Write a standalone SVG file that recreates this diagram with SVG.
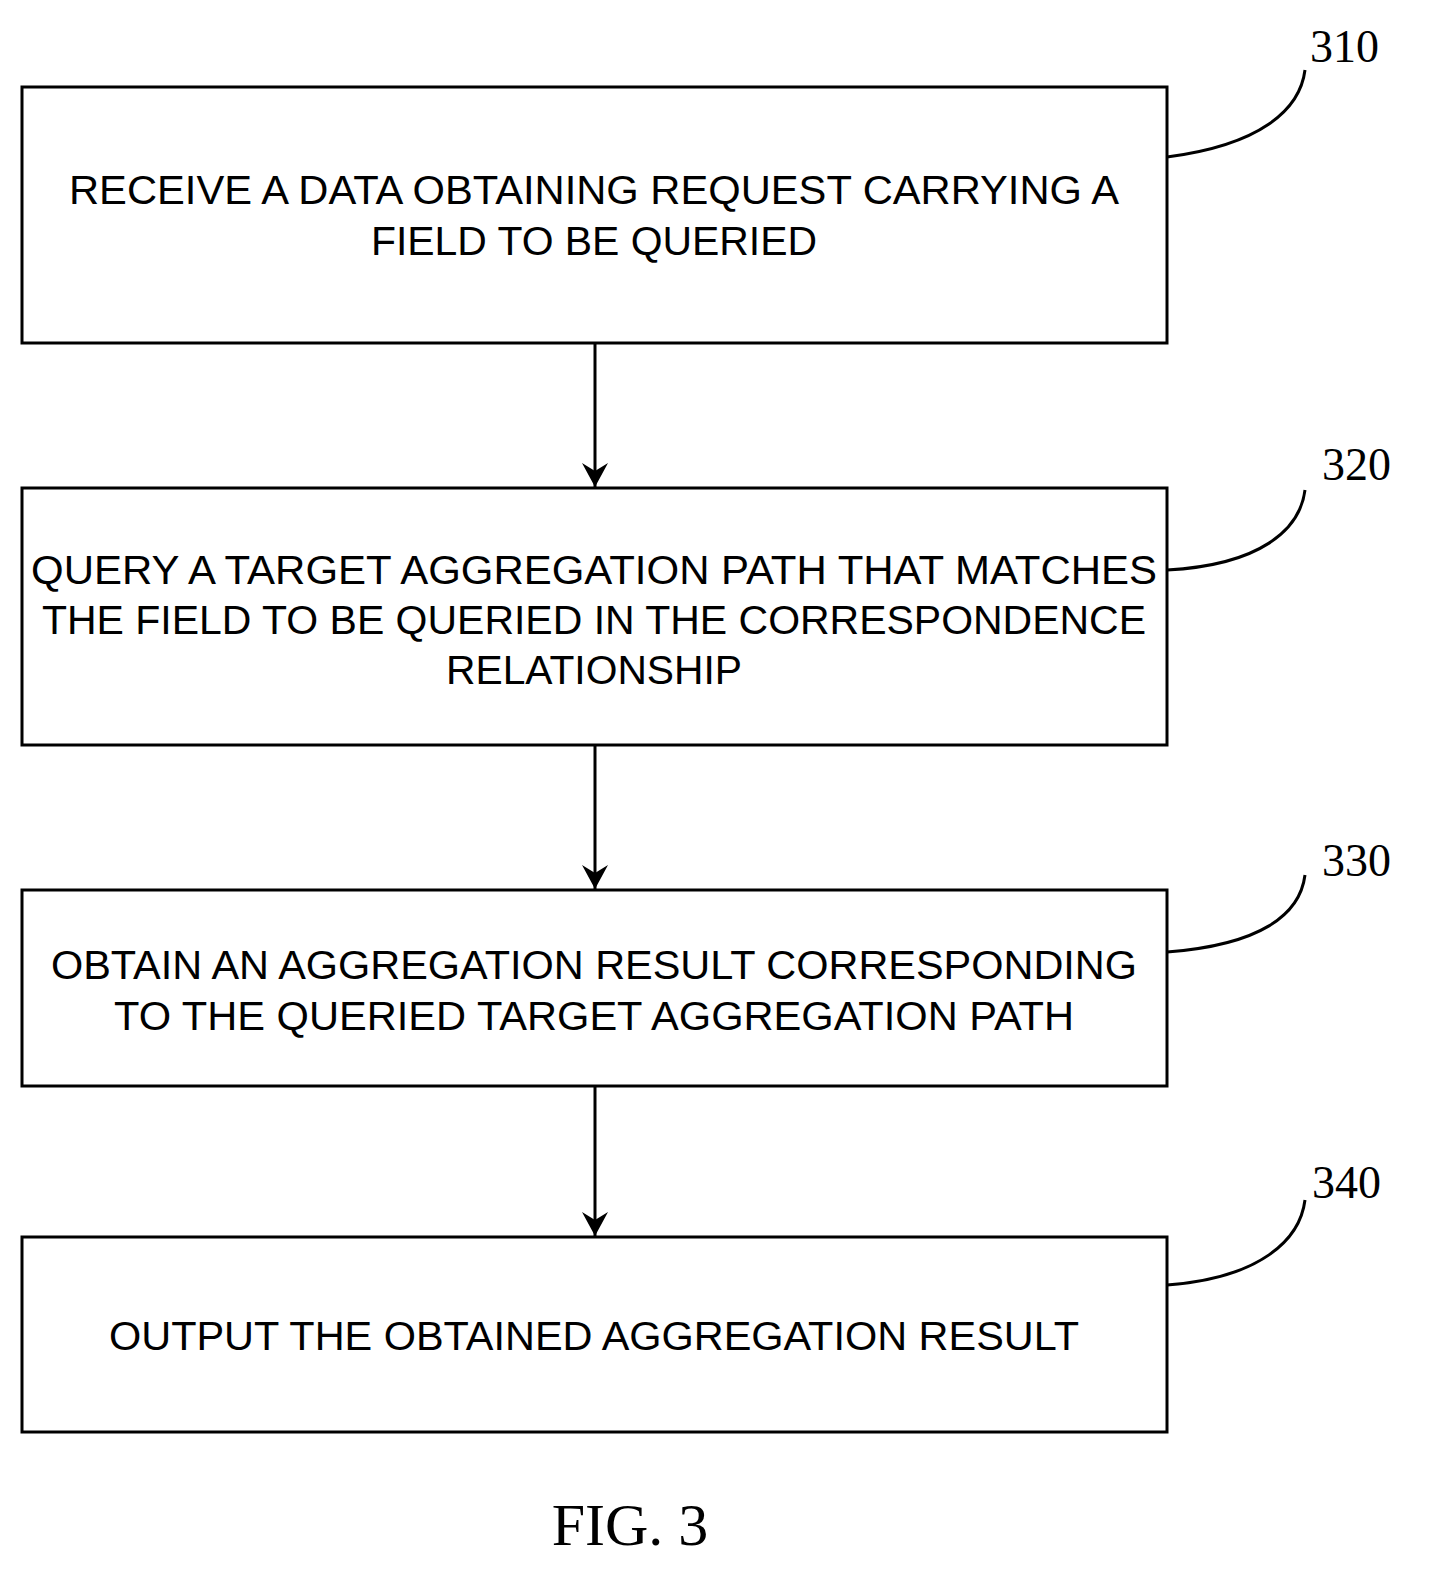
<svg xmlns="http://www.w3.org/2000/svg" width="1430" height="1570" viewBox="0 0 1430 1570">
<style>
.b{fill:#fff;stroke:#000;stroke-width:3}
.t{font-family:"Liberation Sans",Arial,sans-serif;font-size:40px;fill:#000;text-anchor:middle}
.n{font-family:"Liberation Serif","Times New Roman",serif;font-size:46px;fill:#000}
.c{fill:none;stroke:#000;stroke-width:3}
</style>
<defs><marker id="a" viewBox="0 0 24 26" refX="24" refY="13" markerWidth="24" markerHeight="26" markerUnits="userSpaceOnUse" orient="auto"><path d="M0,0L24,13L0,26L8,13z" fill="#000"/></marker></defs>
<rect width="1430" height="1570" fill="#fff"/>
<g id="n310"><rect class="b" x="22" y="87" width="1145" height="256"/>
<text class="t" x="594" y="204" textLength="1050" lengthAdjust="spacingAndGlyphs">RECEIVE A DATA OBTAINING REQUEST CARRYING A</text>
<text class="t" x="594" y="255" textLength="446" lengthAdjust="spacingAndGlyphs">FIELD TO BE QUERIED</text>
<text class="n" x="1310" y="62">310</text><path class="c" d="M1167,157 C1260,145 1300,110 1305,70"/></g>
<g id="n320"><rect class="b" x="22" y="488" width="1145" height="257"/>
<text class="t" x="594" y="584" textLength="1126" lengthAdjust="spacingAndGlyphs">QUERY A TARGET AGGREGATION PATH THAT MATCHES</text>
<text class="t" x="594" y="634" textLength="1104" lengthAdjust="spacingAndGlyphs">THE FIELD TO BE QUERIED IN THE CORRESPONDENCE</text>
<text class="t" x="594" y="684" textLength="296" lengthAdjust="spacingAndGlyphs">RELATIONSHIP</text>
<text class="n" x="1322" y="480">320</text><path class="c" d="M1167,570 C1260,565 1300,530 1305,490"/></g>
<g id="n330"><rect class="b" x="22" y="890" width="1145" height="196"/>
<text class="t" x="594" y="979" textLength="1086" lengthAdjust="spacingAndGlyphs">OBTAIN AN AGGREGATION RESULT CORRESPONDING</text>
<text class="t" x="594" y="1030" textLength="960" lengthAdjust="spacingAndGlyphs">TO THE QUERIED TARGET AGGREGATION PATH</text>
<text class="n" x="1322" y="876">330</text><path class="c" d="M1167,952 C1260,945 1300,915 1305,875"/></g>
<g id="n340"><rect class="b" x="22" y="1237" width="1145" height="195"/>
<text class="t" x="594" y="1350" textLength="970" lengthAdjust="spacingAndGlyphs">OUTPUT THE OBTAINED AGGREGATION RESULT</text>
<text class="n" x="1312" y="1198">340</text><path class="c" d="M1167,1285 C1260,1278 1300,1240 1305,1200"/></g>
<g id="connectors" stroke="#000" stroke-width="3">
<line x1="595" y1="343" x2="595" y2="487" marker-end="url(#a)"/>
<line x1="595" y1="745" x2="595" y2="889" marker-end="url(#a)"/>
<line x1="595" y1="1086" x2="595" y2="1236" marker-end="url(#a)"/>
</g>
<text x="630" y="1545" font-family="Liberation Serif,serif" font-size="60" text-anchor="middle">FIG. 3</text>
</svg>
